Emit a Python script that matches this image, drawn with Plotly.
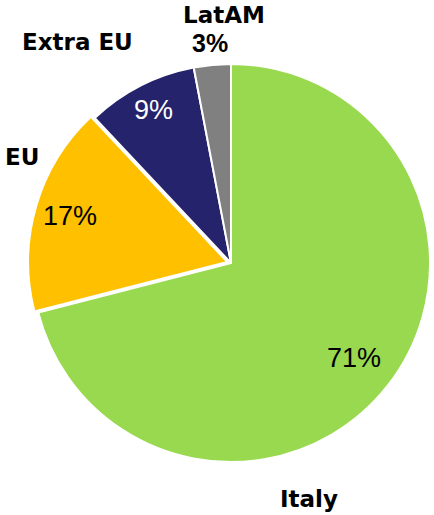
import math
import plotly.graph_objects as go

# ---- data ----
labels = ["Italy", "EU", "Extra EU", "LatAM"]
values = [71, 17, 9, 3]

# ---- style ----
colors = ["#99D94F", "#FFC000", "#24236B", "#808080"]
pct_colors = ["#000000", "#000000", "#FFFFFF", "#000000"]
pct_bold = [False, False, False, True]
pct_size = [27, 27, 27, 25]
pct_rfrac = [0.78, 0.82, 0.86, 1.11]   # radial position of % text (fraction of radius)
pulls = [0, 0.02, 0, 0]
label_pos = {  # pixel positions of category labels
    "Italy": (309, 499),
    "EU": (22, 157),
    "Extra EU": (77, 42),
    "LatAM": (224, 15),
}

W, H = 434, 515
cx, cy = 231, 263          # pie centre in pixels
half = 203                 # half-size of pie domain in pixels
r_eff = half / (1 + max(pulls))

fig = go.Figure(go.Pie(
    labels=labels,
    values=values,
    sort=False,
    direction="clockwise",
    rotation=0,
    pull=pulls,
    marker=dict(colors=colors, line=dict(color="white", width=2)),
    textinfo="none",
    hoverinfo="label+percent",
    showlegend=False,
    domain=dict(x=[(cx - half) / W, min(1, (cx + half) / W)],
                y=[1 - (cy + half) / H, 1 - (cy - half) / H]),
))

total = sum(values)
annotations = []
cum = 0
for i, (lab, v) in enumerate(zip(labels, values)):
    mid = (cum + v / 2) / total * 2 * math.pi
    cum += v
    rr = r_eff * (pct_rfrac[i] + pulls[i])
    px = cx + rr * math.sin(mid)
    py = cy - rr * math.cos(mid)
    txt = f"{round(v / total * 100)}%"
    if pct_bold[i]:
        txt = f"<b>{txt}</b>"
    annotations.append(dict(
        x=px / W, y=1 - py / H, xref="paper", yref="paper",
        text=txt, showarrow=False, xanchor="center", yanchor="middle",
        font=dict(family="Liberation Sans, Arial, sans-serif", size=pct_size[i],
                  color=pct_colors[i]),
    ))

for lab in labels:
    px, py = label_pos[lab]
    annotations.append(dict(
        x=px / W, y=1 - py / H, xref="paper", yref="paper",
        text=f"<b>{lab}</b>", showarrow=False, xanchor="center", yanchor="middle",
        font=dict(family="DejaVu Sans, Verdana, sans-serif", size=23, color="#000000"),
    ))

fig.update_layout(
    width=W, height=H,
    margin=dict(l=0, r=0, t=0, b=0),
    paper_bgcolor="white",
    plot_bgcolor="white",
    annotations=annotations,
)

fig.write_html("out.html")
